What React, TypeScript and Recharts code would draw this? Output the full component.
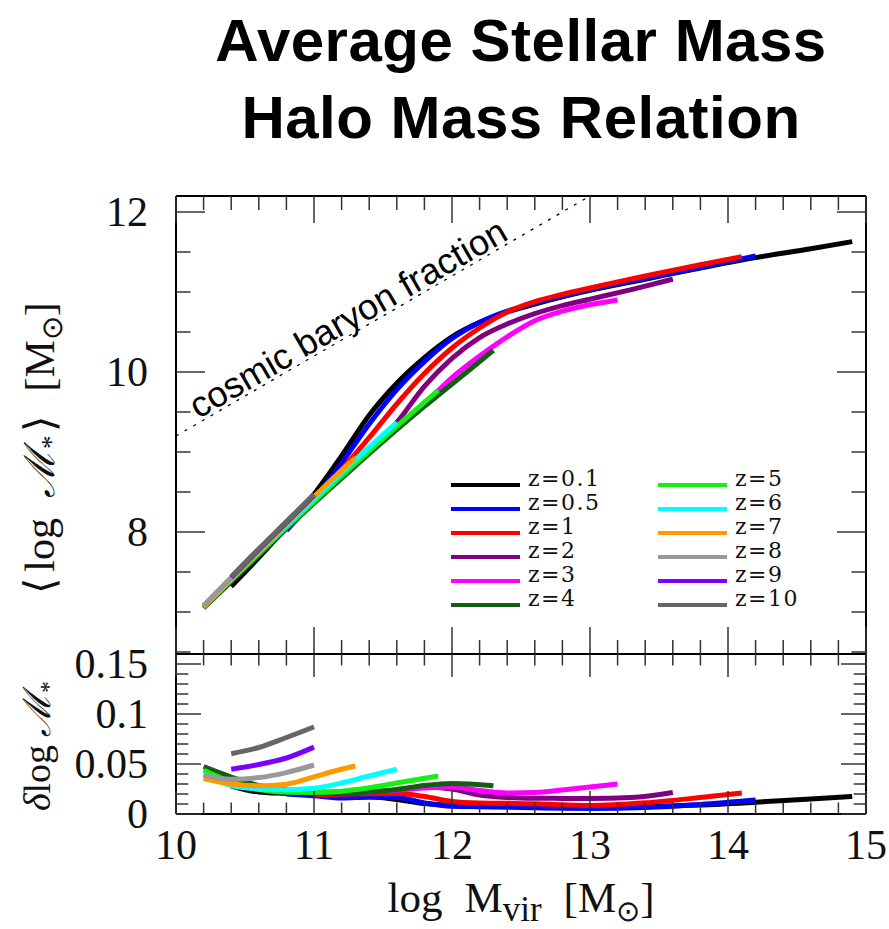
import { LineChart, Line, XAxis, YAxis } from 'recharts'

// redshift labels and colours (legend order = drawing order)
const Z_LABELS = ['z=0.1', 'z=0.5', 'z=1', 'z=2', 'z=3', 'z=4', 'z=5', 'z=6', 'z=7', 'z=8', 'z=9', 'z=10']
const Z_COLORS = ['#000000', '#0000ff', '#ff0000', '#800080', '#ff00ff', '#125e12', '#16ee16', '#00ffff', '#ff9900', '#999999', '#7a00ff', '#666666']

// log Mvir grid of each redshift curve
const LOGMVIR_Z01 = [10.4, 10.6, 10.8, 11.0, 11.2, 11.4, 11.6, 11.8, 12.0, 12.2, 12.4, 12.6, 12.8, 13.0, 13.4, 13.8, 14.2, 14.6, 14.9]
const LOGMVIR_Z05 = [10.8, 11.0, 11.2, 11.4, 11.6, 11.8, 12.0, 12.2, 12.4, 12.6, 12.8, 13.0, 13.4, 13.8, 14.2]
const LOGMVIR_Z1 = [11.0, 11.2, 11.4, 11.6, 11.8, 12.0, 12.2, 12.4, 12.6, 12.8, 13.0, 13.4, 13.8, 14.1]
const LOGMVIR_Z2 = [11.0, 11.2, 11.4, 11.6, 11.8, 12.0, 12.2, 12.4, 12.6, 12.8, 13.0, 13.3, 13.6]
const LOGMVIR_Z3 = [10.6, 11.0, 11.4, 11.8, 12.0, 12.2, 12.4, 12.6, 12.8, 13.0, 13.2]
const LOGMVIR_Z4 = [10.2, 10.4, 10.6, 10.8, 11.0, 11.2, 11.4, 11.6, 11.8, 12.0, 12.3]
const LOGMVIR_Z5 = [10.2, 10.4, 10.6, 10.8, 11.0, 11.2, 11.4, 11.6, 11.9]
const LOGMVIR_Z6 = [10.2, 10.4, 10.6, 10.8, 11.0, 11.2, 11.4, 11.6]
const LOGMVIR_Z7 = [10.2, 10.4, 10.6, 10.8, 11.0, 11.15, 11.3]
const LOGMVIR_Z8 = [10.2, 10.4, 10.6, 10.8, 11.0]
const LOGMVIR_Z9 = [10.4, 10.6, 10.8, 11.0]
const LOGMVIR_Z10 = [10.4, 10.6, 10.8, 11.0]

// <log M*> on those grids
const LOGMSTAR_Z01 = [7.32, 7.68, 8.06, 8.47, 8.95, 9.46, 9.86, 10.18, 10.44, 10.62, 10.75, 10.85, 10.94, 11.02, 11.16, 11.30, 11.43, 11.54, 11.63]
const LOGMSTAR_Z05 = [8.02, 8.40, 8.86, 9.35, 9.78, 10.13, 10.42, 10.62, 10.76, 10.86, 10.95, 11.03, 11.17, 11.31, 11.45]
const LOGMSTAR_Z1 = [8.42, 8.78, 9.18, 9.60, 9.98, 10.30, 10.55, 10.75, 10.88, 10.97, 11.05, 11.20, 11.34, 11.44]
const LOGMSTAR_Z2 = [8.38, 8.70, 9.02, 9.37, 9.82, 10.17, 10.43, 10.60, 10.73, 10.83, 10.91, 11.03, 11.16]
const LOGMSTAR_Z3 = [7.72, 8.37, 8.99, 9.60, 9.93, 10.20, 10.44, 10.64, 10.76, 10.84, 10.90]
const LOGMSTAR_Z4 = [7.05, 7.38, 7.71, 8.04, 8.36, 8.67, 8.98, 9.28, 9.57, 9.85, 10.27]
const LOGMSTAR_Z5 = [7.06, 7.40, 7.73, 8.06, 8.38, 8.70, 9.01, 9.32, 9.77]
const LOGMSTAR_Z6 = [7.07, 7.41, 7.75, 8.08, 8.41, 8.74, 9.06, 9.37]
const LOGMSTAR_Z7 = [7.07, 7.42, 7.76, 8.10, 8.44, 8.69, 8.93]
const LOGMSTAR_Z8 = [7.08, 7.43, 7.77, 8.11, 8.45]
const LOGMSTAR_Z9 = [7.43, 7.78, 8.12, 8.46]
const LOGMSTAR_Z10 = [7.44, 7.79, 8.13, 8.47]

// delta log M* on the same grids
const SCATTER_Z01 = [0.028, 0.022, 0.0205, 0.019, 0.0183, 0.0175, 0.0145, 0.0105, 0.0088, 0.0084, 0.008, 0.0076, 0.0074, 0.0073, 0.0078, 0.0091, 0.0118, 0.015, 0.0176]
const SCATTER_Z05 = [0.0199, 0.0182, 0.016, 0.0168, 0.0165, 0.011, 0.0078, 0.0073, 0.0068, 0.0063, 0.0058, 0.0056, 0.0065, 0.0095, 0.0139]
const SCATTER_Z1 = [0.0192, 0.0197, 0.0202, 0.0204, 0.0175, 0.0125, 0.011, 0.0107, 0.0103, 0.0093, 0.0086, 0.0112, 0.0165, 0.021]
const SCATTER_Z2 = [0.021, 0.021, 0.022, 0.024, 0.027, 0.025, 0.019, 0.0165, 0.0157, 0.0156, 0.0155, 0.0165, 0.0215]
const SCATTER_Z3 = [0.025, 0.022, 0.022, 0.026, 0.027, 0.0235, 0.021, 0.0215, 0.024, 0.027, 0.03]
const SCATTER_Z4 = [0.0474, 0.037, 0.0285, 0.0242, 0.0215, 0.0209, 0.022, 0.0245, 0.0285, 0.0305, 0.0282]
const SCATTER_Z5 = [0.0437, 0.032, 0.0245, 0.0217, 0.0215, 0.0228, 0.0262, 0.031, 0.0381]
const SCATTER_Z6 = [0.0398, 0.0285, 0.025, 0.0243, 0.0258, 0.031, 0.038, 0.0447]
const SCATTER_Z7 = [0.0354, 0.03, 0.0282, 0.0298, 0.0371, 0.043, 0.048]
const SCATTER_Z8 = [0.0388, 0.0348, 0.0364, 0.0414, 0.049]
const SCATTER_Z9 = [0.0447, 0.0495, 0.056, 0.0669]
const SCATTER_Z10 = [0.0603, 0.0665, 0.0765, 0.0871]

// cosmic baryon fraction line
const BARYON_X = [10, 13]
const BARYON_Y = [9.2, 12.2]

// axes
const X_TICKS = [10, 10.2, 10.4, 10.6, 10.8, 11, 11.2, 11.4, 11.6, 11.8, 12, 12.2, 12.4, 12.6, 12.8, 13, 13.2, 13.4, 13.6, 13.8, 14, 14.2, 14.4, 14.6, 14.8, 15]
const X_LABELS = [10, 11, 12, 13, 14, 15]
const MSTAR_TICKS = [6.5, 7, 7.5, 8, 8.5, 9, 9.5, 10, 10.5, 11, 11.5, 12]
const MSTAR_LABELS = [8, 10, 12]
const SCATTER_TICKS = [0, 0.01, 0.02, 0.03, 0.04, 0.05, 0.06, 0.07, 0.08, 0.09, 0.1, 0.11, 0.12, 0.13, 0.14, 0.15]
const SCATTER_LABELS = ['0', '0.05', '0.1', '0.15']

const MVIR = [LOGMVIR_Z01, LOGMVIR_Z05, LOGMVIR_Z1, LOGMVIR_Z2, LOGMVIR_Z3, LOGMVIR_Z4, LOGMVIR_Z5, LOGMVIR_Z6, LOGMVIR_Z7, LOGMVIR_Z8, LOGMVIR_Z9, LOGMVIR_Z10]
const MSTAR = [LOGMSTAR_Z01, LOGMSTAR_Z05, LOGMSTAR_Z1, LOGMSTAR_Z2, LOGMSTAR_Z3, LOGMSTAR_Z4, LOGMSTAR_Z5, LOGMSTAR_Z6, LOGMSTAR_Z7, LOGMSTAR_Z8, LOGMSTAR_Z9, LOGMSTAR_Z10]
const SCATTER = [SCATTER_Z01, SCATTER_Z05, SCATTER_Z1, SCATTER_Z2, SCATTER_Z3, SCATTER_Z4, SCATTER_Z5, SCATTER_Z6, SCATTER_Z7, SCATTER_Z8, SCATTER_Z9, SCATTER_Z10]

const series = Z_LABELS.map((name, i) => ({
  name,
  color: Z_COLORS[i],
  top: MVIR[i].map((x, j) => ({ x, y: MSTAR[i][j] })),
  bottom: MVIR[i].map((x, j) => ({ x, y: SCATTER[i][j] })),
}))
const baryon = BARYON_X.map((x, j) => ({ x, y: BARYON_Y[j] }))

const W = 889
const H = 929
const PLOT_LEFT = 176
const PLOT_RIGHT = 866
const TOP_Y0 = 196
const TOP_Y1 = 654
const BOT_Y1 = 814

const SERIF = '"Liberation Serif", "Times New Roman", serif'
const SANS = '"Liberation Sans", Arial, sans-serif'
const TICK_COLOR = '#333'

type Side = 'top' | 'bottom' | 'left' | 'right'

// inward pointing ticks, long on majors, with optional labels outside
function makeTick(side: Side, major: number, minor: number, isMajor: (v: number) => boolean, label?: (v: number) => string | null) {
  return (props: any) => {
    const { x, y, payload } = props
    const v = payload.value as number
    const len = isMajor(v) ? major : minor
    const dx = side === 'left' ? len : side === 'right' ? -len : 0
    const dy = side === 'bottom' ? -len : side === 'top' ? len : 0
    const text = label ? label(v) : null
    return (
      <g>
        <line x1={x} y1={y} x2={x + dx} y2={y + dy} stroke={TICK_COLOR} strokeWidth={1.5} />
        {text !== null && side === 'left' && (
          <text x={x - 28} y={y + 14} textAnchor="end" fontFamily={SERIF} fontSize={42} fill="#111">
            {text}
          </text>
        )}
        {text !== null && side === 'bottom' && (
          <text x={x} y={y + 45} textAnchor="middle" fontFamily={SERIF} fontSize={42} fill="#111">
            {text}
          </text>
        )}
      </g>
    )
  }
}

const isInt = (v: number) => Math.abs(v - Math.round(v)) < 1e-6
const isMstarMajor = (v: number) => isInt(v) && Math.round(v) % 2 === 0
const isScatterMajor = (v: number) => Math.round(v * 100) % 5 === 0

const xLabel = (v: number) => {
  const hit = X_LABELS.find((l) => Math.abs(l - v) < 1e-6)
  return hit === undefined ? null : String(hit)
}
const mstarLabel = (v: number) => {
  const hit = MSTAR_LABELS.find((l) => Math.abs(l - v) < 1e-6)
  return hit === undefined ? null : String(hit)
}
const scatterLabel = (v: number) => {
  const i = [0, 0.05, 0.1, 0.15].findIndex((l) => Math.abs(l - v) < 1e-6)
  return i < 0 ? null : SCATTER_LABELS[i]
}

const frame = { stroke: '#000', strokeWidth: 2 }

function Panel({ which }: { which: 'top' | 'bottom' }) {
  const isTop = which === 'top'
  const y0 = isTop ? TOP_Y0 : TOP_Y1
  const y1 = isTop ? TOP_Y1 : BOT_Y1
  const yDomain: [number, number] = isTop ? [6.475, 12.2] : [0, 0.16]
  const yTicks = isTop ? MSTAR_TICKS : SCATTER_TICKS
  const yMajor = isTop ? isMstarMajor : isScatterMajor
  const xMaj = isTop ? 27 : 23
  const xMin = isTop ? 14 : 11.5
  const yMaj = isTop ? 29 : 25
  const yMin = isTop ? 14.5 : 12.3
  // axes are 1px thick, so the margins leave exactly the plot box
  return (
    <div style={{ position: 'absolute', left: 0, top: 0 }}>
      <LineChart
        width={W}
        height={H}
        margin={{ top: y0 - 1, bottom: H - y1 - 1, left: PLOT_LEFT - 1, right: W - PLOT_RIGHT - 1 }}
      >
        <XAxis
          xAxisId="b"
          type="number"
          dataKey="x"
          domain={[10, 15]}
          allowDataOverflow
          ticks={X_TICKS}
          interval={0}
          height={1}
          tickSize={0}
          tickMargin={0}
          tickLine={false}
          axisLine={frame}
          tick={makeTick('bottom', xMaj, xMin, isInt, isTop ? undefined : xLabel)}
        />
        <XAxis
          xAxisId="t"
          orientation="top"
          type="number"
          dataKey="x"
          domain={[10, 15]}
          allowDataOverflow
          ticks={X_TICKS}
          interval={0}
          height={1}
          tickSize={0}
          tickMargin={0}
          tickLine={false}
          axisLine={frame}
          tick={makeTick('top', xMaj, xMin, isInt)}
        />
        <YAxis
          yAxisId="l"
          type="number"
          dataKey="y"
          domain={yDomain}
          allowDataOverflow
          ticks={yTicks}
          interval={0}
          width={1}
          tickSize={0}
          tickMargin={0}
          tickLine={false}
          axisLine={frame}
          tick={makeTick('left', yMaj, yMin, yMajor, isTop ? mstarLabel : scatterLabel)}
        />
        <YAxis
          yAxisId="r"
          orientation="right"
          type="number"
          dataKey="y"
          domain={yDomain}
          allowDataOverflow
          ticks={yTicks}
          interval={0}
          width={1}
          tickSize={0}
          tickMargin={0}
          tickLine={false}
          axisLine={frame}
          tick={makeTick('right', yMaj, yMin, yMajor)}
        />
        {isTop && (
          <Line
            xAxisId="b"
            yAxisId="l"
            data={baryon}
            dataKey="y"
            type="linear"
            stroke="#000"
            strokeWidth={1.3}
            strokeDasharray="3 7"
            dot={false}
            activeDot={false}
            isAnimationActive={false}
          />
        )}
        {series.map((s) => (
          <Line
            key={s.name}
            xAxisId="b"
            yAxisId="l"
            data={isTop ? s.top : s.bottom}
            dataKey="y"
            name={s.name}
            type="monotone"
            stroke={s.color}
            strokeWidth={5}
            dot={false}
            activeDot={false}
            isAnimationActive={false}
          />
        ))}
      </LineChart>
    </div>
  )
}

function Texts() {
  const rows = 6
  return (
    <svg width={W} height={H} style={{ position: 'absolute', left: 0, top: 0, pointerEvents: 'none' }}>
      <g fontFamily={SANS} fontWeight="bold" fontSize={60} textAnchor="middle" fill="#000" letterSpacing={0.5}>
        <text x={521} y={61}>Average Stellar Mass</text>
        <text x={521} y={138}>Halo Mass Relation</text>
      </g>

      <text
        transform="translate(354,329) rotate(-30.1)"
        textAnchor="middle"
        fontFamily={SANS}
        fontSize={36}
        fill="#000"
      >
        cosmic baryon fraction
      </text>

      {/* y label, top panel */}
      <text transform="translate(54,448) rotate(-90)" textAnchor="middle" fontFamily={SERIF} fontSize={42} fill="#111">
        <tspan>⟨</tspan>
        <tspan dx={6}>log</tspan>
        <tspan dx={20} fontStyle="italic">ℳ</tspan>
        <tspan fontSize={27} dy={6}>*</tspan>
        <tspan dx={4} dy={-6}>⟩</tspan>
        <tspan dx={24}>[M</tspan>
        <tspan fontSize={29} dy={8}>⊙</tspan>
        <tspan dy={-8}>]</tspan>
      </text>

      {/* y label, bottom panel */}
      <text transform="translate(50,746) rotate(-90)" textAnchor="middle" fontFamily={SERIF} fontSize={38} fill="#111">
        <tspan fontStyle="italic">δ</tspan>
        <tspan>log</tspan>
        <tspan dx={8} fontStyle="italic">ℳ</tspan>
        <tspan fontSize={24} dy={6}>*</tspan>
      </text>

      {/* x label */}
      <text x={521} y={912} textAnchor="middle" fontFamily={SERIF} fontSize={43} fill="#111">
        <tspan>log</tspan>
        <tspan dx={22}>M</tspan>
        <tspan fontSize={35} dy={9}>vir</tspan>
        <tspan dx={22} dy={-9}>[M</tspan>
        <tspan fontSize={29} dy={9}>⊙</tspan>
        <tspan dy={-9}>]</tspan>
      </text>

      {/* legend */}
      {series.map((s, i) => {
        const col = Math.floor(i / rows)
        const row = i % rows
        const lx = col === 0 ? 451 : 658
        const ly = 485 + row * 24
        return (
          <g key={s.name}>
            <line x1={lx} y1={ly} x2={lx + 69} y2={ly} stroke={s.color} strokeWidth={4} />
            <text
              x={lx + 77}
              y={ly + 1}
              fontFamily='"DejaVu Serif", serif'
              fontSize={22}
              letterSpacing={1.5}
              fill="#111"
            >
              {s.name}
            </text>
          </g>
        )
      })}
    </svg>
  )
}

export default function App() {
  return (
    <div style={{ position: 'absolute', left: 0, top: 0, width: W, height: H, background: '#fff' }}>
      <Panel which="top" />
      <Panel which="bottom" />
      <Texts />
    </div>
  )
}
